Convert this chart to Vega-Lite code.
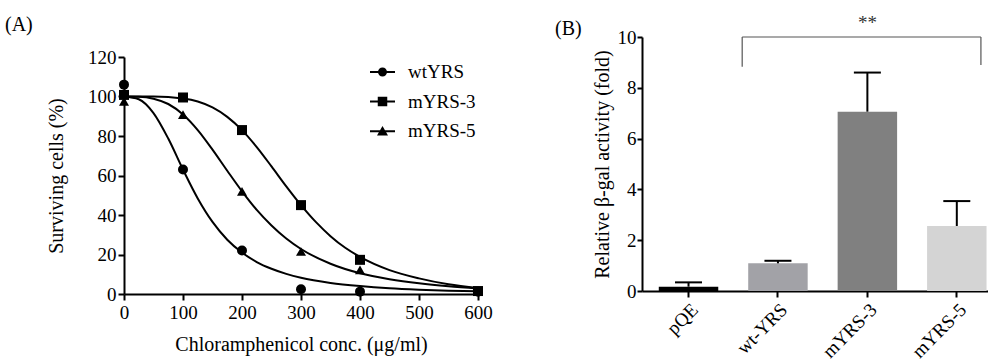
{
  "$schema": "https://vega.github.io/schema/vega-lite/v6.json",
  "padding": {"left": 5, "top": 14, "right": 0, "bottom": 0},
  "spacing": 62,
  "datasets": {
    "curves": [
      {"strain": "wtYRS", "conc": 0, "pct": 100}, {"strain": "wtYRS", "conc": 25, "pct": 98.6}, {"strain": "wtYRS", "conc": 50, "pct": 91.6}, {"strain": "wtYRS", "conc": 75, "pct": 78.7}, {"strain": "wtYRS", "conc": 100, "pct": 63.0}, {"strain": "wtYRS", "conc": 125, "pct": 48.4}, {"strain": "wtYRS", "conc": 150, "pct": 36.5}, {"strain": "wtYRS", "conc": 175, "pct": 27.5}, {"strain": "wtYRS", "conc": 200, "pct": 21.0}, {"strain": "wtYRS", "conc": 225, "pct": 16.2}, {"strain": "wtYRS", "conc": 250, "pct": 12.8}, {"strain": "wtYRS", "conc": 275, "pct": 10.2}, {"strain": "wtYRS", "conc": 300, "pct": 8.2}, {"strain": "wtYRS", "conc": 350, "pct": 5.6}, {"strain": "wtYRS", "conc": 400, "pct": 4.0}, {"strain": "wtYRS", "conc": 450, "pct": 2.9}, {"strain": "wtYRS", "conc": 500, "pct": 2.2}, {"strain": "wtYRS", "conc": 550, "pct": 1.7}, {"strain": "wtYRS", "conc": 600, "pct": 1.4},
      {"strain": "mYRS-3", "conc": 0, "pct": 100}, {"strain": "mYRS-3", "conc": 50, "pct": 100}, {"strain": "mYRS-3", "conc": 100, "pct": 99.0}, {"strain": "mYRS-3", "conc": 125, "pct": 97.5}, {"strain": "mYRS-3", "conc": 150, "pct": 94.5}, {"strain": "mYRS-3", "conc": 175, "pct": 89.7}, {"strain": "mYRS-3", "conc": 200, "pct": 83.0}, {"strain": "mYRS-3", "conc": 225, "pct": 74.4}, {"strain": "mYRS-3", "conc": 250, "pct": 64.6}, {"strain": "mYRS-3", "conc": 275, "pct": 54.5}, {"strain": "mYRS-3", "conc": 300, "pct": 45.0}, {"strain": "mYRS-3", "conc": 325, "pct": 36.5}, {"strain": "mYRS-3", "conc": 350, "pct": 29.3}, {"strain": "mYRS-3", "conc": 375, "pct": 23.4}, {"strain": "mYRS-3", "conc": 400, "pct": 18.8}, {"strain": "mYRS-3", "conc": 450, "pct": 12.1}, {"strain": "mYRS-3", "conc": 500, "pct": 7.9}, {"strain": "mYRS-3", "conc": 550, "pct": 4.9}, {"strain": "mYRS-3", "conc": 600, "pct": 3.0},
      {"strain": "mYRS-5", "conc": 0, "pct": 100}, {"strain": "mYRS-5", "conc": 25, "pct": 99.9}, {"strain": "mYRS-5", "conc": 50, "pct": 98.9}, {"strain": "mYRS-5", "conc": 75, "pct": 96.2}, {"strain": "mYRS-5", "conc": 100, "pct": 90.9}, {"strain": "mYRS-5", "conc": 125, "pct": 83.0}, {"strain": "mYRS-5", "conc": 150, "pct": 73.1}, {"strain": "mYRS-5", "conc": 175, "pct": 62.4}, {"strain": "mYRS-5", "conc": 200, "pct": 52.0}, {"strain": "mYRS-5", "conc": 225, "pct": 42.6}, {"strain": "mYRS-5", "conc": 250, "pct": 34.7}, {"strain": "mYRS-5", "conc": 275, "pct": 28.1}, {"strain": "mYRS-5", "conc": 300, "pct": 22.8}, {"strain": "mYRS-5", "conc": 350, "pct": 15.3}, {"strain": "mYRS-5", "conc": 400, "pct": 10.5}, {"strain": "mYRS-5", "conc": 450, "pct": 7.5}, {"strain": "mYRS-5", "conc": 500, "pct": 5.4}, {"strain": "mYRS-5", "conc": 550, "pct": 3.9}, {"strain": "mYRS-5", "conc": 600, "pct": 2.8}
    ],
    "points": [
      {"strain": "wtYRS", "conc": 0, "pct": 106}, {"strain": "wtYRS", "conc": 100, "pct": 63}, {"strain": "wtYRS", "conc": 200, "pct": 22}, {"strain": "wtYRS", "conc": 300, "pct": 2.4}, {"strain": "wtYRS", "conc": 400, "pct": 1.2}, {"strain": "wtYRS", "conc": 600, "pct": 1.2},
      {"strain": "mYRS-3", "conc": 0, "pct": 100.8}, {"strain": "mYRS-3", "conc": 100, "pct": 99.5}, {"strain": "mYRS-3", "conc": 200, "pct": 83}, {"strain": "mYRS-3", "conc": 300, "pct": 45}, {"strain": "mYRS-3", "conc": 400, "pct": 17.3}, {"strain": "mYRS-3", "conc": 600, "pct": 1.5},
      {"strain": "mYRS-5", "conc": 0, "pct": 97.5}, {"strain": "mYRS-5", "conc": 100, "pct": 90.8}, {"strain": "mYRS-5", "conc": 200, "pct": 52}, {"strain": "mYRS-5", "conc": 300, "pct": 21.5}, {"strain": "mYRS-5", "conc": 400, "pct": 12.2}, {"strain": "mYRS-5", "conc": 600, "pct": 1.3}
    ],
    "bars": [
      {"group": "pQE", "mean": 0.17, "upper": 0.34},
      {"group": "wt-YRS", "mean": 1.09, "upper": 1.19},
      {"group": "mYRS-3", "mean": 7.06, "upper": 8.6},
      {"group": "mYRS-5", "mean": 2.56, "upper": 3.54}
    ],
    "stars": [{"group": "mYRS-3", "y": 10.7, "label": "**"}],
    "bracket": [{"start": 0.53, "end": 3.43, "ystart": 8.83, "yend": 8.9, "top": 10}]
  },
  "hconcat": [
    {
      "width": 354,
      "height": 257,
      "title": {"text": "(A)", "anchor": "start", "frame": "group", "dx": -119, "offset": 2, "font": "Liberation Serif", "fontSize": 20, "fontWeight": "normal", "color": "black"},
      "resolve": {"scale": {"shape": "independent"}},
      "layer": [
        {
          "data": {"name": "curves"},
          "mark": {"type": "line", "interpolate": "monotone", "strokeWidth": 2, "color": "black"},
          "encoding": {
            "x": {"field": "conc", "type": "quantitative", "scale": {"domain": [0, 600], "nice": false},
                  "axis": {"values": [0, 100, 200, 300, 400, 500, 600], "title": "Chloramphenicol conc. (μg/ml)", "tickSize": 6, "labelPadding": 3, "titlePadding": 12, "labelFlush": false, "labelOverlap": false, "labelFontSize": 19, "titleFontSize": 20}},
            "y": {"field": "pct", "type": "quantitative", "scale": {"domain": [0, 120], "nice": false, "range": [257, 20]},
                  "axis": {"values": [0, 20, 40, 60, 80, 100, 120], "title": "Surviving cells (%)", "tickSize": 6, "labelPadding": 2, "titlePadding": 21, "labelFlush": false, "labelOverlap": false, "labelFontSize": 19, "titleFontSize": 20}},
            "detail": {"field": "strain", "type": "nominal"}
          }
        },
        {
          "data": {"name": "points"},
          "mark": {"type": "point", "filled": true, "color": "black", "opacity": 1, "size": 100},
          "encoding": {
            "x": {"field": "conc", "type": "quantitative"},
            "y": {"field": "pct", "type": "quantitative"},
            "shape": {"field": "strain", "type": "nominal",
              "scale": {"domain": ["wtYRS", "mYRS-3", "mYRS-5"], "range": ["circle", "square", "triangle-up"]},
              "legend": null}
          }
        },
        {
          "data": {"name": "points"},
          "transform": [{"filter": "datum.conc < 0"}],
          "mark": {"type": "point", "filled": true, "color": "black", "opacity": 1, "size": 625},
          "encoding": {
            "x": {"field": "conc", "type": "quantitative"},
            "y": {"field": "pct", "type": "quantitative"},
            "shape": {"field": "strain", "type": "nominal",
              "scale": {"domain": ["wtYRS", "mYRS-3", "mYRS-5"],
                        "range": ["M-1,-0.08H1V0.08H-1Z M0.36,0A0.36,0.36 0 1,1 -0.36,0A0.36,0.36 0 1,1 0.36,0Z",
                                  "M-1,-0.08H1V0.08H-1Z M-0.38,-0.38H0.38V0.38H-0.38Z",
                                  "M-1,-0.08H1V0.08H-1Z M0,-0.42L0.44,0.34H-0.44Z"]},
              "legend": {"orient": "none", "legendX": 246, "legendY": 22.5, "title": null, "symbolSize": 625, "padding": 0, "rowPadding": 6.6,
                "labelFont": "Liberation Serif", "labelFontSize": 19, "labelColor": "black", "labelOffset": 13,
                "symbolFillColor": "black", "symbolStrokeWidth": 0, "symbolOpacity": 1}
            }
          }
        }
      ]
    },
    {
      "width": 346,
      "height": 254,
      "title": {"text": "(B)", "anchor": "start", "frame": "group", "dx": -87, "offset": -25, "font": "Liberation Serif", "fontSize": 20, "fontWeight": "normal", "color": "black"},
      "resolve": {"scale": {"x": "independent"}},
      "layer": [
        {
          "layer": [
            {
              "data": {"name": "bars"},
              "mark": {"type": "bar"},
              "encoding": {
                "x": {"field": "group", "type": "nominal", "sort": null,
                      "scale": {"domain": ["pQE", "wt-YRS", "mYRS-3", "mYRS-5"], "paddingInner": 0.335, "paddingOuter": 0.102, "align": 0.92},
                      "axis": {"title": null, "labelAngle": -45, "tickSize": 6, "labelPadding": 3, "labelFontSize": 19}},
                "y": {"field": "mean", "type": "quantitative", "scale": {"domain": [0, 10], "nice": false},
                      "axis": {"values": [0, 2, 4, 6, 8, 10], "title": "Relative β-gal activity (fold)", "tickSize": 5, "labelPadding": 1, "titlePadding": 5, "labelFlush": false, "labelOverlap": false, "labelFontSize": 19, "titleFontSize": 20}},
                "color": {"field": "group", "type": "nominal", "legend": null,
                          "scale": {"domain": ["pQE", "wt-YRS", "mYRS-3", "mYRS-5"], "range": ["#000000", "#a2a2a7", "#808080", "#d4d4d4"]}}
              }
            },
            {
              "data": {"name": "bars"},
              "mark": {"type": "rule", "strokeWidth": 2, "color": "black"},
              "encoding": {
                "x": {"field": "group", "type": "nominal", "sort": null},
                "y": {"field": "mean", "type": "quantitative"},
                "y2": {"field": "upper"}
              }
            },
            {
              "data": {"name": "bars"},
              "mark": {"type": "tick", "orient": "horizontal", "size": 27, "thickness": 2, "color": "black", "opacity": 1},
              "encoding": {
                "x": {"field": "group", "type": "nominal", "sort": null},
                "y": {"field": "upper", "type": "quantitative"}
              }
            },
            {
              "data": {"name": "stars"},
              "mark": {"type": "text", "font": "Liberation Serif", "fontSize": 19, "color": "#333333", "baseline": "middle", "dy": 4},
              "encoding": {
                "x": {"field": "group", "type": "nominal", "sort": null},
                "y": {"field": "y", "type": "quantitative"},
                "text": {"field": "label"}
              }
            }
          ]
        },
        {
          "data": {"name": "bracket"},
          "layer": [
            {
              "mark": {"type": "rule", "strokeWidth": 1.2, "color": "#555555"},
              "encoding": {
                "x": {"field": "start", "type": "quantitative", "scale": {"domain": [-0.687, 3.516], "nice": false, "zero": false}, "axis": null},
                "y": {"field": "ystart", "type": "quantitative"},
                "y2": {"field": "top"}
              }
            },
            {
              "mark": {"type": "rule", "strokeWidth": 1.2, "color": "#555555"},
              "encoding": {
                "x": {"field": "start", "type": "quantitative"},
                "x2": {"field": "end"},
                "y": {"field": "top", "type": "quantitative"}
              }
            },
            {
              "mark": {"type": "rule", "strokeWidth": 1.2, "color": "#555555"},
              "encoding": {
                "x": {"field": "end", "type": "quantitative"},
                "y": {"field": "yend", "type": "quantitative"},
                "y2": {"field": "top"}
              }
            }
          ]
        }
      ]
    }
  ],
  "config": {
    "view": {"stroke": null},
    "font": "Liberation Serif",
    "axis": {"grid": false, "domainColor": "black", "domainWidth": 2, "tickColor": "black", "tickWidth": 2,
             "labelFont": "Liberation Serif", "labelFontSize": 19, "labelColor": "black",
             "titleFont": "Liberation Serif", "titleFontSize": 20, "titleFontWeight": "normal", "titleColor": "black"}
  }
}
